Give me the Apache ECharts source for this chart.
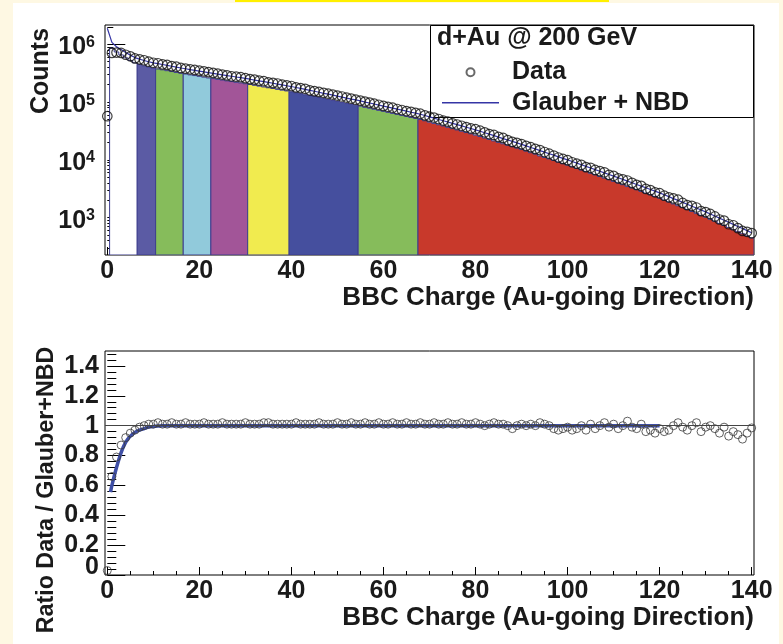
<!DOCTYPE html>
<html>
<head>
<meta charset="utf-8">
<script src="https://cdn.jsdelivr.net/npm/echarts@6/dist/echarts.min.js"></script>
<style>
  html, body { margin: 0; padding: 0; background: #fef8e3; }
  #page { position: relative; width: 783px; height: 644px; overflow: hidden; }
  #sheet { position: absolute; left: 13px; top: 3px; width: 766px; height: 641px; background: #ffffff; }
  #band { position: absolute; left: 235px; top: 0; width: 374px; height: 2px; background: #fff000; }
  #chart { position: absolute; left: 0; top: 0; width: 783px; height: 644px; }
</style>
</head>
<body>
<div id="page"><div id="sheet"></div><div id="band"></div><div id="chart"></div></div>
<script>
const FONT = '"Liberation Sans", Arial, Helvetica, sans-serif';

// BBC charge histogram, unit-wide bins centred on 0, 1, ..., 140
const dataCounts = [
  5.7e4, 7.1e5, 7.2e5, 7.1e5, 6.6e5, 6.2e5, 5.7e5, 5.5e5, 5.3e5, 5.0e5,
  4.8e5, 4.7e5, 4.5e5, 4.4e5, 4.2e5, 4.1e5, 3.9e5, 3.8e5, 3.7e5, 3.6e5,
  3.5e5, 3.4e5, 3.3e5, 3.2e5, 3.1e5, 3.0e5, 2.9e5, 2.8e5, 2.75e5, 2.7e5,
  2.6e5, 2.5e5, 2.45e5, 2.35e5, 2.3e5, 2.2e5, 2.15e5, 2.1e5, 2.0e5, 1.95e5,
  1.9e5, 1.8e5, 1.75e5, 1.7e5, 1.6e5, 1.55e5, 1.5e5, 1.45e5, 1.4e5, 1.35e5,
  1.3e5, 1.25e5, 1.2e5, 1.15e5, 1.1e5, 1.06e5, 1.02e5, 9.8e4, 9.4e4, 9.0e4,
  8.6e4, 8.3e4, 8.0e4, 7.6e4, 7.3e4, 7.0e4, 6.8e4, 6.5e4, 6.3e4, 5.9e4,
  5.6e4, 5.4e4, 5.1e4, 4.8e4, 4.6e4, 4.3e4, 4.1e4, 3.9e4, 3.7e4, 3.5e4,
  3.4e4, 3.2e4, 3.0e4, 2.8e4, 2.7e4, 2.5e4, 2.4e4, 2.2e4, 2.05e4, 1.97e4,
  1.88e4, 1.75e4, 1.66e4, 1.55e4, 1.48e4, 1.37e4, 1.28e4, 1.19e4, 1.10e4, 1.04e4,
  9.9e3, 9.1e3, 8.6e3, 8.2e3, 7.5e3, 7.3e3, 6.7e3, 6.4e3, 6.1e3, 5.5e3,
  5.3e3, 4.8e3, 4.6e3, 4.4e3, 4.0e3, 3.7e3, 3.55e3, 3.15e3, 3.0e3, 2.75e3,
  2.65e3, 2.4e3, 2.25e3, 2.15e3, 2.05e3, 1.8e3, 1.65e3, 1.6e3, 1.5e3, 1.3e3,
  1.25e3, 1.16e3, 1.05e3, 930, 890, 770, 740, 660, 590, 570, 540
];

// Glauber + NBD expectation for the same bins
const glauberNbd = [
  1.9e6, 1.08e6, 9.1e5, 8.1e5, 7.2e5, 6.5e5, 5.9e5, 5.55e5, 5.25e5, 5.0e5,
  4.79e5, 4.62e5, 4.47e5, 4.32e5, 4.17e5, 4.03e5, 3.89e5, 3.78e5, 3.66e5, 3.55e5,
  3.44e5, 3.33e5, 3.24e5, 3.15e5, 3.05e5, 2.97e5, 2.88e5, 2.80e5, 2.72e5, 2.65e5,
  2.57e5, 2.49e5, 2.41e5, 2.33e5, 2.26e5, 2.19e5, 2.12e5, 2.05e5, 1.99e5, 1.92e5,
  1.86e5, 1.79e5, 1.73e5, 1.66e5, 1.60e5, 1.54e5, 1.48e5, 1.42e5, 1.37e5, 1.32e5,
  1.27e5, 1.22e5, 1.17e5, 1.13e5, 1.09e5, 1.05e5, 1.00e5, 9.66e4, 9.27e4, 8.89e4,
  8.55e4, 8.20e4, 7.87e4, 7.55e4, 7.26e4, 6.97e4, 6.68e4, 6.43e4, 6.17e4, 5.86e4,
  5.56e4, 5.28e4, 5.01e4, 4.76e4, 4.52e4, 4.29e4, 4.07e4, 3.87e4, 3.67e4, 3.49e4,
  3.31e4, 3.13e4, 2.95e4, 2.79e4, 2.63e4, 2.48e4, 2.34e4, 2.21e4, 2.09e4, 1.97e4,
  1.86e4, 1.75e4, 1.64e4, 1.55e4, 1.45e4, 1.36e4, 1.28e4, 1.21e4, 1.13e4, 1.06e4,
  1.00e4, 9.38e3, 8.79e3, 8.24e3, 7.73e3, 7.24e3, 6.79e3, 6.37e3, 5.97e3, 5.60e3,
  5.25e3, 4.91e3, 4.59e3, 4.30e3, 4.02e3, 3.76e3, 3.52e3, 3.29e3, 3.08e3, 2.88e3,
  2.69e3, 2.49e3, 2.31e3, 2.14e3, 1.99e3, 1.84e3, 1.71e3, 1.58e3, 1.47e3, 1.36e3,
  1.26e3, 1.16e3, 1.07e3, 982, 904, 832, 766, 705, 649, 597, 550
];

// filled histogram split into centrality classes (bin 0 belongs to no class)
const classHistCounts = [
  0, 8.6e5, 7.37e5, 6.56e5, 5.83e5, 5.27e5, 4.78e5, 4.5e5, 4.25e5, 4.05e5,
  3.88e5, 3.74e5, 3.62e5, 3.50e5, 3.38e5, 3.26e5, 3.15e5, 3.06e5, 2.96e5, 2.88e5,
  2.79e5, 2.70e5, 2.62e5, 2.55e5, 2.47e5, 2.41e5, 2.33e5, 2.27e5, 2.20e5, 2.15e5,
  2.08e5, 2.02e5, 1.95e5, 1.89e5, 1.83e5, 1.77e5, 1.72e5, 1.66e5, 1.61e5, 1.56e5,
  1.51e5, 1.45e5, 1.40e5, 1.34e5, 1.30e5, 1.25e5, 1.20e5, 1.15e5, 1.11e5, 1.07e5,
  1.03e5, 9.88e4, 9.48e4, 9.15e4, 8.83e4, 8.51e4, 8.10e4, 7.82e4, 7.51e4, 7.20e4,
  6.93e4, 6.64e4, 6.37e4, 6.12e4, 5.88e4, 5.65e4, 5.41e4, 5.21e4, 5.00e4, 4.75e4,
  4.50e4, 4.28e4, 4.06e4, 3.86e4, 3.66e4, 3.47e4, 3.30e4, 3.13e4, 2.97e4, 2.83e4,
  2.68e4, 2.54e4, 2.39e4, 2.26e4, 2.13e4, 2.01e4, 1.90e4, 1.79e4, 1.69e4, 1.60e4,
  1.51e4, 1.42e4, 1.33e4, 1.26e4, 1.17e4, 1.10e4, 1.04e4, 9.80e3, 9.15e3, 8.59e3,
  8.10e3, 7.60e3, 7.12e3, 6.67e3, 6.26e3, 5.86e3, 5.50e3, 5.16e3, 4.84e3, 4.54e3,
  4.25e3, 3.98e3, 3.72e3, 3.48e3, 3.26e3, 3.05e3, 2.85e3, 2.66e3, 2.49e3, 2.33e3,
  2.18e3, 2.02e3, 1.87e3, 1.73e3, 1.61e3, 1.49e3, 1.39e3, 1.28e3, 1.19e3, 1.10e3,
  1.02e3, 940, 867, 795, 732, 674, 620, 571, 526, 484, 446
];

// Data / (Glauber + NBD) per bin
const ratioDataFit = [
  0.03, 0.66, 0.79, 0.87, 0.92, 0.95, 0.97, 0.99, 1.00, 1.01,
  1.01, 1.02, 1.01, 1.01, 1.02, 1.01, 1.01, 1.02, 1.01, 1.01,
  1.01, 1.02, 1.01, 1.01, 1.01, 1.02, 1.01, 1.01, 1.01, 1.01,
  1.02, 1.01, 1.01, 1.01, 1.02, 1.02, 1.01, 1.01, 1.01, 1.01,
  1.01, 1.02, 1.01, 1.01, 1.01, 1.01, 1.02, 1.01, 1.01, 1.01,
  1.02, 1.01, 1.01, 1.02, 1.01, 1.01, 1.02, 1.01, 1.01, 1.02,
  1.01, 1.01, 1.02, 1.01, 1.01, 1.02, 1.01, 1.01, 1.02, 1.01,
  1.01, 1.02, 1.01, 1.01, 1.02, 1.01, 1.01, 1.02, 1.01, 1.01,
  1.02, 1.01, 1.00, 1.01, 1.02, 1.01, 1.01, 1.00, 0.98, 1.00,
  1.01, 1.00, 1.01, 1.00, 1.02, 1.01, 1.00, 0.98, 0.97, 0.98,
  0.99, 0.97, 0.98, 1.00, 0.97, 1.01, 0.98, 1.00, 1.02, 0.99,
  1.01, 0.98, 1.00, 1.03, 0.99, 0.98, 1.01, 0.96, 0.97, 0.95,
  0.98, 0.96, 0.97, 1.00, 1.02, 0.99, 0.97, 1.00, 1.02, 0.96,
  0.99, 1.00, 0.98, 0.95, 0.99, 0.93, 0.96, 0.94, 0.91, 0.95, 0.985
];

// trigger-efficiency curve drawn over the ratio
const efficiencyX = [0.7, 1, 2, 3, 4, 5, 6, 7, 8, 9, 10, 11, 12, 120];
const efficiencyY = [0.555, 0.6, 0.72, 0.82, 0.89, 0.93, 0.955, 0.97, 0.98, 0.99, 0.995, 0.998, 1, 1];

// centrality classes: first and last BBC charge bin of each band
const classFirstBin = [1, 7, 11, 17, 23, 31, 40, 55, 68];
const classLastBin  = [6, 10, 16, 22, 30, 39, 54, 67, 140];
const classColors = ['#ffffff', '#5b5ba4', '#86bc5b', '#91cadb', '#a25598', '#f1eb4f', '#454f9e', '#86bc5b', '#c8392b'];

// axis ticks
const chargeTicks = [0, 20, 40, 60, 80, 100, 120, 140];
const chargeMinorTicks = [5, 10, 15, 25, 30, 35, 45, 50, 55, 65, 70, 75, 85, 90, 95, 105, 110, 115, 125, 130, 135];
const countTicks = [1e3, 1e4, 1e5, 1e6];
const countMinorTicks = [300, 400, 500, 600, 700, 800, 900, 2e3, 3e3, 4e3, 5e3, 6e3, 7e3, 8e3, 9e3,
  2e4, 3e4, 4e4, 5e4, 6e4, 7e4, 8e4, 9e4, 2e5, 3e5, 4e5, 5e5, 6e5, 7e5, 8e5, 9e5, 2e6];
const ratioTicks = [0, 0.2, 0.4, 0.6, 0.8, 1, 1.2, 1.4];
const ratioMinorTicks = [0.04, 0.08, 0.12, 0.16, 0.24, 0.28, 0.32, 0.36, 0.44, 0.48, 0.52, 0.56,
  0.64, 0.68, 0.72, 0.76, 0.84, 0.88, 0.92, 0.96, 1.04, 1.08, 1.12, 1.16, 1.24, 1.28, 1.32, 1.36, 1.44, 1.48];

const COUNT_MIN = 226, COUNT_MAX = 2.16e6;
const CHARGE_MIN = -0.5, CHARGE_MAX = 140.5;

const chart = echarts.init(document.getElementById('chart'), null, { renderer: 'canvas' });

const INK = '#1a1a1a';
const labelFont = { fontFamily: FONT, fontWeight: 'bold', fontSize: 25, color: INK };
const axisTitle = 'BBC Charge (Au-going Direction)';

function chargeAxes(gridIndex) {
  return [
    {
      gridIndex, type: 'value', min: CHARGE_MIN, max: CHARGE_MAX, position: 'bottom',
      axisLine: { show: false },
      axisTick: { show: true, inside: true, length: 8, customValues: chargeTicks, lineStyle: { color: '#000', width: 1 } },
      axisLabel: Object.assign({ customValues: chargeTicks, margin: 4, showMinLabel: true, showMaxLabel: true }, labelFont),
      splitLine: { show: false }
    },
    {
      gridIndex, type: 'value', min: CHARGE_MIN, max: CHARGE_MAX, position: 'bottom',
      axisLine: { show: false },
      axisTick: { show: true, inside: true, length: 4, customValues: chargeMinorTicks, lineStyle: { color: '#000', width: 1 } },
      axisLabel: { show: false },
      splitLine: { show: false }
    }
  ];
}

function titleText(x, y, text, size, rotated) {
  return {
    type: 'text', z: 5, x, y, rotation: rotated ? Math.PI / 2 : 0,
    style: { text, align: rotated ? 'center' : 'right', verticalAlign: 'middle', font: 'bold ' + size + 'px ' + FONT, fill: INK }
  };
}

const option = {
  animation: false,
  grid: [
    { left: 105, top: 25, width: 649, height: 230, outerBoundsMode: 'none', show: true, backgroundColor: '#fff', borderColor: '#000', borderWidth: 1 },
    { left: 105, top: 351, width: 649, height: 224, outerBoundsMode: 'none', show: true, backgroundColor: '#fff', borderColor: '#000', borderWidth: 1 }
  ],
  xAxis: [...chargeAxes(0), ...chargeAxes(1)],
  yAxis: [
    {
      gridIndex: 0, type: 'log', logBase: 10, min: COUNT_MIN, max: COUNT_MAX, position: 'left',
      axisLine: { show: false },
      axisTick: { show: true, inside: true, length: 18, customValues: countTicks, lineStyle: { color: '#000' } },
      axisLabel: {
        customValues: countTicks, margin: 10, showMinLabel: true, showMaxLabel: true,
        formatter: v => '{b|10}{s|' + Math.round(Math.log10(v)) + '}',
        rich: {
          b: { fontFamily: FONT, fontWeight: 'bold', fontSize: 25, color: INK, lineHeight: 30, padding: [6, 0, 0, 0] },
          s: { fontFamily: FONT, fontWeight: 'bold', fontSize: 16, color: INK, lineHeight: 16, verticalAlign: 'top', padding: [5, 0, 0, 0] }
        }
      },
      splitLine: { show: false }
    },
    {
      gridIndex: 0, type: 'log', logBase: 10, min: COUNT_MIN, max: COUNT_MAX, position: 'left',
      axisLine: { show: false },
      axisTick: { show: true, inside: true, length: 6, customValues: countMinorTicks, lineStyle: { color: '#000' } },
      axisLabel: { show: false },
      splitLine: { show: false }
    },
    {
      gridIndex: 1, type: 'value', min: 0, max: 1.5, position: 'left',
      axisLine: { show: false },
      axisTick: { show: true, inside: true, length: 18, customValues: ratioTicks, lineStyle: { color: '#000' } },
      axisLabel: Object.assign({
        customValues: ratioTicks.filter(v => v > 0), margin: 6, showMinLabel: true, showMaxLabel: true
      }, labelFont),
      splitLine: { show: false }
    },
    {
      // minor ticks, plus the zero label lifted clear of the corner
      gridIndex: 1, type: 'value', min: 0, max: 1.5, position: 'left',
      axisLine: { show: false },
      axisTick: { show: true, inside: true, length: 9, customValues: ratioMinorTicks, lineStyle: { color: '#000' } },
      axisLabel: Object.assign({
        customValues: [0], margin: 6, showMinLabel: true,
        formatter: '{z|{value}}',
        rich: { z: Object.assign({ lineHeight: 25, padding: [0, 0, 16, 0] }, labelFont) }
      }, labelFont),
      splitLine: { show: false }
    }
  ],
  legend: {
    left: 442, top: 57, orient: 'vertical', padding: 0, itemGap: 0,
    itemWidth: 57, itemHeight: 8, selectedMode: false,
    data: [
      { name: 'Data', itemStyle: { borderColor: '#444' } },
      { name: 'Glauber + NBD', icon: 'path://M0,0H57V1.3H0Z' }
    ],
    textStyle: Object.assign({ lineHeight: 30.5, padding: [0, 0, 0, 8] }, labelFont)
  },
  graphic: [
    { type: 'rect', z: 3, shape: { x: 430.5, y: 25.5, width: 323, height: 92 }, style: { fill: '#fff', stroke: '#000', lineWidth: 1 } },
    { type: 'text', z: 5, x: 437, y: 38, style: { text: 'd+Au @ 200 GeV', verticalAlign: 'middle', font: 'bold 25px ' + FONT, fill: INK } },
    titleText(41.5, 71, 'Counts', 25, true),
    titleText(46.5, 490, 'Ratio Data / Glauber+NBD', 23.3, true),
    titleText(754, 298, axisTitle, 26, false),
    titleText(754, 618, axisTitle, 26, false)
  ],
  series: [
    {
      name: 'Centrality classes', type: 'custom', xAxisIndex: 0, yAxisIndex: 0, z: 2, clip: true,
      data: classFirstBin.map((first, k) => [first, classLastBin[k], k]),
      renderItem(params, api) {
        const first = api.value(0), last = api.value(1), k = api.value(2);
        const pts = [api.coord([first - 0.5, COUNT_MIN])];
        for (let b = first; b <= last; b++) {
          pts.push(api.coord([b - 0.5, classHistCounts[b]]));
          pts.push(api.coord([b + 0.5, classHistCounts[b]]));
        }
        pts.push(api.coord([last + 0.5, COUNT_MIN]));
        return { type: 'polygon', shape: { points: pts }, style: { fill: classColors[k], stroke: '#3d3d8f', lineWidth: 1 } };
      }
    },
    {
      name: 'Glauber + NBD', type: 'line', xAxisIndex: 0, yAxisIndex: 0, z: 3,
      data: glauberNbd.map((v, i) => [i, v]),
      symbol: 'none', lineStyle: { color: '#3535a5', width: 1.2 }, itemStyle: { color: '#3535a5' }
    },
    {
      name: 'Data', type: 'scatter', xAxisIndex: 0, yAxisIndex: 0, z: 4,
      data: dataCounts.map((v, i) => [i, v]),
      symbol: 'circle', symbolSize: 9.5,
      itemStyle: { color: 'rgba(255,255,255,0)', borderColor: '#111', borderWidth: 1.2 }
    },
    {
      name: 'Efficiency', type: 'line', xAxisIndex: 2, yAxisIndex: 2, z: 3,
      data: efficiencyX.map((x, i) => [x, efficiencyY[i]]),
      symbol: 'none', smooth: 0.3, lineStyle: { color: '#3f4fa6', width: 3.5 },
      markLine: {
        silent: true, symbol: 'none', label: { show: false },
        lineStyle: { color: '#444', width: 1, type: 'solid' },
        data: [{ yAxis: 1 }]
      }
    },
    {
      name: 'Data / (Glauber + NBD)', type: 'scatter', xAxisIndex: 2, yAxisIndex: 2, z: 4,
      data: ratioDataFit.map((v, i) => [i, v]),
      symbol: 'circle', symbolSize: 8,
      itemStyle: { color: 'rgba(255,255,255,0)', borderColor: '#3a3a3a', borderWidth: 1 }
    }
  ]
};

chart.setOption(option);
</script>
</body>
</html>
